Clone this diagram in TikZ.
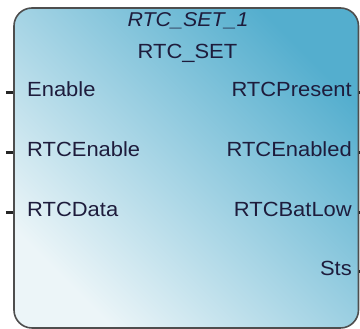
\documentclass[tikz,border=0pt]{standalone}
\usepackage{fontspec}
\setmainfont{Liberation Sans}
\usepackage{xcolor}
\definecolor{fbtop}{RGB}{84,174,206}
\definecolor{fbmid}{RGB}{165,210,226}
\definecolor{fbbot}{RGB}{236,245,248}
\definecolor{fbtext}{RGB}{30,28,60}
\definecolor{fbline}{RGB}{78,78,78}

\begin{document}
\begin{tikzpicture}[x=1pt,y=1pt,font=\fontsize{20.5}{23}\selectfont,line cap=butt,
  lbl/.style={text=fbtext,inner sep=0pt,xscale=1.07},
  inlbl/.style={lbl,anchor=base west},
  outlbl/.style={lbl,anchor=base east},
  pintick/.style={line width=3pt,black!85}]
\useasboundingbox (0,0) rectangle (360,329);
\begin{scope}
\clip (0,0) rectangle (360,329);
\node[draw=fbline,line width=1.6pt,rounded corners=18pt,inner sep=0pt,
  minimum width=344.5pt,minimum height=320pt,
  top color=fbtop,middle color=fbmid,bottom color=fbbot,shading angle=-45] (blk) at (186.25,161) {};
\node[lbl,anchor=base,font=\fontsize{20}{23}\selectfont\itshape] (inst) at (188,302) {RTC\_SET\_1};
\node[lbl,anchor=base] (typ) at (187.5,270) {RTC\_SET};
% inputs
\coordinate (i1) at (6,236);
\coordinate (i2) at (6,176);
\coordinate (i3) at (6,116);
\draw[pintick] (i1) -- (blk.west |- i1);
\draw[pintick] (i2) -- (blk.west |- i2);
\draw[pintick] (i3) -- (blk.west |- i3);
\node[inlbl] (enable) at (27,232) {Enable};
\node[inlbl] (rtcen) at (27,172) {RTCEnable};
\node[inlbl] (rtcdata) at (27,112) {RTCData};
% outputs
\coordinate (o1) at (366,236);
\coordinate (o2) at (366,176);
\coordinate (o3) at (366,116);
\coordinate (o4) at (366,57);
\draw[pintick] (blk.east |- o1) -- (o1);
\draw[pintick] (blk.east |- o2) -- (o2);
\draw[pintick] (blk.east |- o3) -- (o3);
\draw[pintick] (blk.east |- o4) -- (o4);
\node[outlbl] (present) at (352,232) {RTCPresent};
\node[outlbl] (enabled) at (352,172) {RTCEnabled};
\node[outlbl] (batlow) at (352,112) {RTCBatLow};
\node[outlbl] (sts) at (352,53) {Sts};
\end{scope}
\end{tikzpicture}
\end{document}
